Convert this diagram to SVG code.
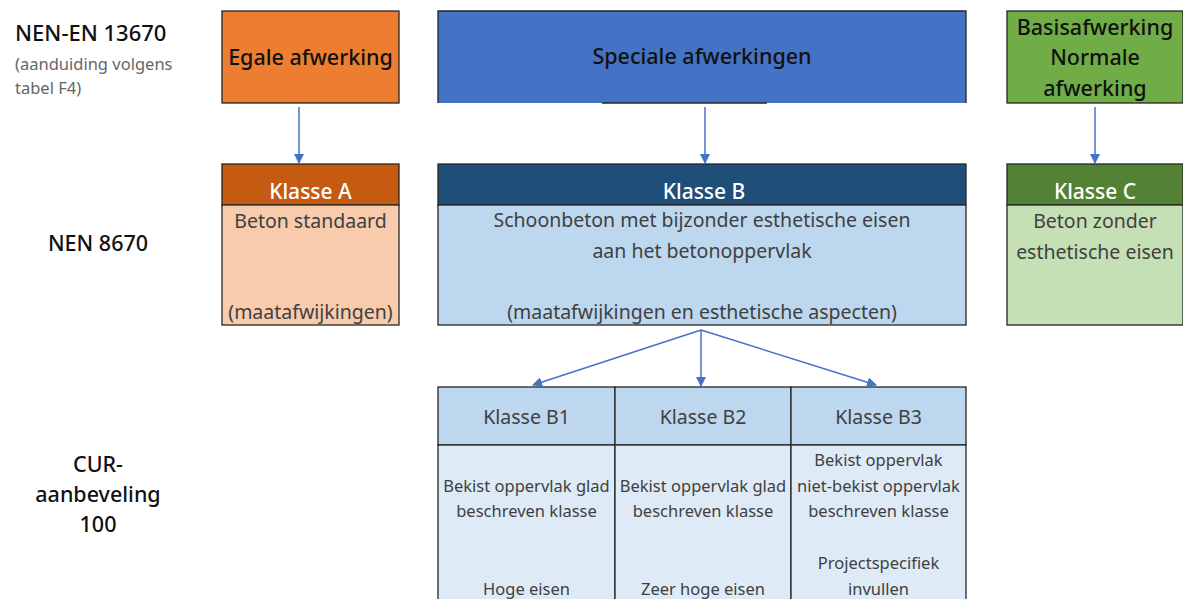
<svg xmlns="http://www.w3.org/2000/svg" width="1183" height="599" viewBox="0 0 1183 599">
<style>
text{font-family:"Noto Sans","Liberation Sans",sans-serif;}
.lbl{font-size:21.5px;fill:#111;text-anchor:middle;font-weight:500;}
.sub{font-size:16.5px;fill:#666;}
.top{font-size:21.5px;fill:#111;text-anchor:middle;font-weight:500;}
.hdr{font-size:21px;fill:#fff;text-anchor:middle;font-weight:500;}
.body{font-size:19.5px;fill:#404040;text-anchor:middle;}
.cell{font-size:16.5px;fill:#404040;text-anchor:middle;}
.edge{stroke:#4472C4;stroke-width:1.5;fill:none;marker-end:url(#ah);}
.bx{stroke:#262626;stroke-width:1.3;}
</style>
<defs>
<marker id="ah" markerWidth="10" markerHeight="10" refX="9" refY="5" orient="auto" markerUnits="userSpaceOnUse">
<path d="M0,0 L10,5 L0,10 z" fill="#4472C4"/>
</marker>
</defs>
<rect width="1183" height="599" fill="#fff"/>

<g id="labels">
<text x="15" y="41" style="font-size:22px;fill:#111;font-weight:500;">NEN-EN 13670</text>
<text x="15" y="70" class="sub">(aanduiding volgens</text>
<text x="15" y="94" class="sub">tabel F4)</text>
<text x="98" y="251" class="lbl">NEN 8670</text>
<text x="98" y="472" class="lbl">CUR-</text>
<text x="98" y="502" class="lbl">aanbeveling</text>
<text x="98" y="532" class="lbl">100</text>
</g>

<g id="egale">
<rect x="222" y="11" width="177" height="92" fill="#ED7D31" class="bx"/>
<text x="310.5" y="65" class="top">Egale afwerking</text>
</g>

<g id="speciale">
<rect x="438" y="11" width="528" height="92" fill="#4472C4"/>
<path d="M438,103 L438,11 L966,11 L966,103" fill="none" class="bx"/>
<line x1="602" y1="103" x2="767" y2="103" class="bx"/>
<text x="702" y="64" class="top">Speciale afwerkingen</text>
</g>

<g id="basis">
<rect x="1007" y="11" width="176" height="92" fill="#70AD47" class="bx"/>
<text x="1095" y="35" class="top">Basisafwerking</text>
<text x="1095" y="65" class="top">Normale</text>
<text x="1095" y="96" class="top">afwerking</text>
</g>

<g id="klasseA">
<rect x="222" y="164" width="177" height="41" fill="#C55A11" class="bx"/>
<rect x="222" y="205" width="177" height="120" fill="#F8CBAD" class="bx"/>
<text x="310.5" y="199" class="hdr">Klasse A</text>
<text x="310.5" y="228" class="body">Beton standaard</text>
<text x="310.5" y="319" class="body">(maatafwijkingen)</text>
</g>

<g id="klasseB">
<rect x="438" y="164" width="528" height="41" fill="#1F4E79" class="bx"/>
<rect x="438" y="205" width="528" height="120" fill="#BDD7EE" class="bx"/>
<text x="704" y="199" class="hdr">Klasse B</text>
<text x="702" y="227" class="body">Schoonbeton met bijzonder esthetische eisen</text>
<text x="702" y="258" class="body">aan het betonoppervlak</text>
<text x="702" y="319" class="body">(maatafwijkingen en esthetische aspecten)</text>
</g>

<g id="klasseC">
<rect x="1007" y="164" width="176" height="41" fill="#548235" class="bx"/>
<rect x="1007" y="205" width="176" height="120" fill="#C5E0B4" class="bx"/>
<text x="1095" y="199" class="hdr">Klasse C</text>
<text x="1095" y="228" class="body">Beton zonder</text>
<text x="1095" y="259" class="body">esthetische eisen</text>
</g>

<g id="klasseB1">
<rect x="438" y="387" width="177" height="58" fill="#BDD7EE" class="bx"/>
<rect x="438" y="445" width="177" height="160" fill="#DEEBF7" class="bx"/>
<text x="526.5" y="424" class="body">Klasse B1</text>
<text x="526.5" y="492" class="cell">Bekist oppervlak glad</text>
<text x="526.5" y="517" class="cell">beschreven klasse</text>
<text x="526.5" y="595" class="cell">Hoge eisen</text>
</g>

<g id="klasseB2">
<rect x="615" y="387" width="176" height="58" fill="#BDD7EE" class="bx"/>
<rect x="615" y="445" width="176" height="160" fill="#DEEBF7" class="bx"/>
<text x="703" y="424" class="body">Klasse B2</text>
<text x="703" y="492" class="cell">Bekist oppervlak glad</text>
<text x="703" y="517" class="cell">beschreven klasse</text>
<text x="703" y="595" class="cell">Zeer hoge eisen</text>
</g>

<g id="klasseB3">
<rect x="791" y="387" width="175" height="58" fill="#BDD7EE" class="bx"/>
<rect x="791" y="445" width="175" height="160" fill="#DEEBF7" class="bx"/>
<text x="878.5" y="424" class="body">Klasse B3</text>
<text x="878.5" y="466" class="cell">Bekist oppervlak</text>
<text x="878.5" y="492" class="cell">niet-bekist oppervlak</text>
<text x="878.5" y="517" class="cell">beschreven klasse</text>
<text x="878.5" y="569" class="cell">Projectspecifiek</text>
<text x="878.5" y="595" class="cell">invullen</text>
</g>

<g id="connectors">
<line x1="299" y1="107" x2="299" y2="163" class="edge"/>
<line x1="705" y1="107" x2="705" y2="163" class="edge"/>
<line x1="1095" y1="107" x2="1095" y2="163" class="edge"/>
<line x1="701" y1="330" x2="533" y2="385" class="edge"/>
<line x1="701" y1="330" x2="701" y2="386" class="edge"/>
<line x1="701" y1="330" x2="876" y2="385" class="edge"/>
</g>
</svg>
